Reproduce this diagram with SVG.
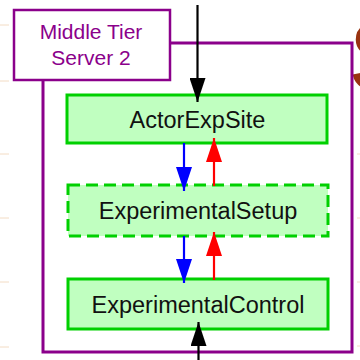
<svg xmlns="http://www.w3.org/2000/svg" width="360" height="360" viewBox="0 0 360 360">
<defs>
<style>
.tier{fill:none;stroke:#8B008B;stroke-width:3}
.lbl{fill:#fff;stroke:#8B008B;stroke-width:2.5}
.lbltxt{font-family:"Liberation Sans",Arial,sans-serif;font-size:21px;fill:#8B008B;text-anchor:middle}
.node{fill:#C0FFC0;stroke:#00D000;stroke-width:3}
.dashed{stroke-dasharray:12 6}
.ntxt{font-family:"Liberation Sans",Arial,sans-serif;font-size:23.5px;fill:#111;text-anchor:middle}
.tick{stroke:#f3dcc4;stroke-width:1}
</style>
<marker id="hb" viewBox="0 0 24 16" refX="24" refY="8" markerWidth="24" markerHeight="16" markerUnits="userSpaceOnUse" orient="auto"><path d="M0,0 L24,8 L0,16 z" fill="#0000FF"/></marker>
<marker id="hr" viewBox="0 0 24 16" refX="24" refY="8" markerWidth="24" markerHeight="16" markerUnits="userSpaceOnUse" orient="auto"><path d="M0,0 L24,8 L0,16 z" fill="#FF0000"/></marker>
<marker id="hblk" viewBox="0 0 24 16" refX="24" refY="8" markerWidth="24" markerHeight="16" markerUnits="userSpaceOnUse" orient="auto"><path d="M0,0 L24,8 L0,16 z" fill="#000"/></marker>
</defs>
<g id="ticks">
<line class="tick" x1="0" y1="25" x2="9" y2="25"/>
<line class="tick" x1="0" y1="81" x2="9" y2="81"/>
<line class="tick" x1="0" y1="154" x2="9" y2="154"/>
<line class="tick" x1="0" y1="218" x2="9" y2="218"/>
<line class="tick" x1="0" y1="282" x2="9" y2="282"/>
<line class="tick" x1="0" y1="347" x2="9" y2="347"/>
<line class="tick" x1="357" y1="154" x2="360" y2="154"/>
<line class="tick" x1="357" y1="218" x2="360" y2="218"/>
<line class="tick" x1="357" y1="282" x2="360" y2="282"/>
<line class="tick" x1="357" y1="346" x2="360" y2="346"/>
</g>
<text x="348" y="91" font-family="Liberation Sans,Arial,sans-serif" font-size="100" fill="#993311">S</text>
<g id="tier">
<rect class="tier" x="43" y="43" width="309" height="309"/>
<rect class="lbl" x="14" y="10" width="156" height="70"/>
<text class="lbltxt" x="91" y="39">Middle Tier</text>
<text class="lbltxt" x="91" y="65">Server 2</text>
</g>
<g id="ActorExpSite">
<rect class="node" x="67" y="95" width="260" height="48"/>
<text class="ntxt" x="197.5" y="128">ActorExpSite</text>
</g>
<g id="ExperimentalSetup">
<rect class="node dashed" x="68" y="185" width="260" height="51"/>
<text class="ntxt" x="198" y="219">ExperimentalSetup</text>
</g>
<g id="ExperimentalControl">
<rect class="node" x="68" y="279" width="260" height="50"/>
<text class="ntxt" x="198" y="312.5">ExperimentalControl</text>
</g>
<g id="connectors" stroke-width="2.2" fill="none">
<line x1="197.5" y1="5" x2="197.5" y2="102" stroke="#000" marker-end="url(#hblk)"/>
<line x1="184" y1="143" x2="184" y2="191" stroke="#0000FF" marker-end="url(#hb)"/>
<line x1="214" y1="186" x2="214" y2="138" stroke="#FF0000" marker-end="url(#hr)"/>
<line x1="184" y1="236" x2="184" y2="283" stroke="#0000FF" marker-end="url(#hb)"/>
<line x1="214" y1="280" x2="214" y2="232" stroke="#FF0000" marker-end="url(#hr)"/>
<line x1="198.5" y1="360" x2="198.5" y2="322" stroke="#000" marker-end="url(#hblk)"/>
</g>
</svg>
